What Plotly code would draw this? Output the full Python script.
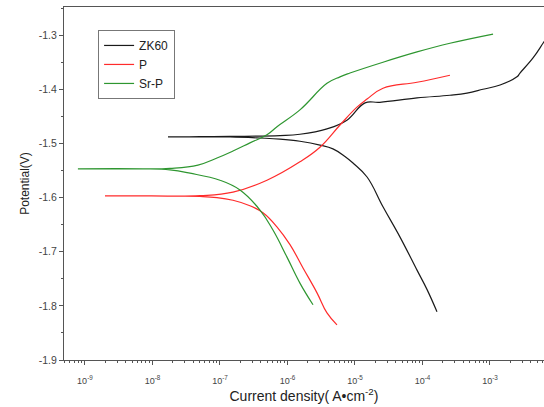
import plotly.graph_objects as go

# Potentiodynamic polarization curves: current density (A/cm^2) vs potential (V)
# Each curve runs from the cathodic end up to the corrosion potential, then out the anodic branch.
zk60_i = [1.64e-4, 1.17e-4, 8.30e-5, 4.65e-5, 2.60e-5, 1.51e-5, 9.50e-6, 7.11e-6, 4.72e-6,
          3.03e-6, 1.53e-6, 7.74e-7, 3.92e-7, 1.41e-7, 5.01e-8, 1.70e-8,
          5.01e-8, 1.41e-7, 7.74e-7, 1.53e-6, 3.85e-6, 7.60e-6, 1.41e-5, 2.34e-5, 8.30e-5,
          2.55e-4, 4.56e-4, 7.87e-4, 1.41e-3, 2.51e-3, 2.78e-3, 4.34e-3, 6.10e-3, 7.08e-3]
zk60_e = [-1.811, -1.770, -1.734, -1.673, -1.617, -1.562, -1.537, -1.524, -1.510,
          -1.503, -1.496, -1.492, -1.490, -1.488, -1.488, -1.488,
          -1.4875, -1.487, -1.4855, -1.483, -1.473, -1.457, -1.425, -1.424, -1.416,
          -1.411, -1.407, -1.400, -1.392, -1.377, -1.370, -1.342, -1.315, -1.303]

p_i = [5.41e-6, 3.85e-6, 2.74e-6, 1.70e-6, 1.09e-6, 6.98e-7, 4.34e-7, 2.78e-7, 1.56e-7,
       9.04e-8, 5.06e-8, 9.18e-9, 1.98e-9,
       9.18e-9, 5.06e-8, 1.56e-7, 4.97e-7, 1.53e-6, 3.03e-6, 6.00e-6, 1.07e-5, 1.51e-5,
       2.60e-5, 8.30e-5, 2.55e-4]
p_e = [-1.835, -1.813, -1.776, -1.730, -1.687, -1.654, -1.628, -1.615, -1.605,
       -1.600, -1.598, -1.597, -1.597,
       -1.597, -1.5965, -1.590, -1.568, -1.534, -1.507, -1.466, -1.433, -1.418,
       -1.398, -1.387, -1.374]

srp_i = [2.39e-6, 1.53e-6, 9.84e-7, 6.10e-7, 3.92e-7, 1.98e-7, 1.00e-7, 3.60e-8, 1.82e-8,
         7.23e-9, 7.87e-10,
         7.23e-9, 1.82e-8, 4.72e-8, 9.04e-8, 1.56e-7, 2.78e-7, 4.97e-7, 7.00e-7, 1.53e-6,
         3.85e-6, 6.00e-6, 8.43e-6, 2.60e-5, 8.30e-5, 2.55e-4, 1.11e-3]
srp_e = [-1.798, -1.758, -1.710, -1.660, -1.623, -1.586, -1.568, -1.555, -1.549,
         -1.547, -1.547,
         -1.547, -1.546, -1.540, -1.527, -1.514, -1.499, -1.484, -1.469, -1.438,
         -1.389, -1.377, -1.370, -1.350, -1.331, -1.315, -1.298]

series_names = ["ZK60", "P", "Sr-P"]
series_colors = ["#1a1a1a", "#ff2b2b", "#2e9630"]
series_x = [zk60_i, p_i, srp_i]
series_y = [zk60_e, p_e, srp_e]

x_tick_exps = [-9, -8, -7, -6, -5, -4, -3]
y_ticks = [-1.9, -1.8, -1.7, -1.6, -1.5, -1.4, -1.3]

fig = go.Figure()
for name, color, xs, ys in zip(series_names, series_colors, series_x, series_y):
    fig.add_trace(go.Scatter(
        x=xs, y=ys, mode="lines", name=name,
        line=dict(color=color, width=1.2, shape="spline", smoothing=1.2),
    ))

font_family = "Liberation Sans, Arial, sans-serif"

fig.update_layout(
    width=544, height=407,
    margin=dict(l=64, r=0, t=7, b=47),
    paper_bgcolor="white", plot_bgcolor="white",
    font=dict(family=font_family, color="#333333"),
    showlegend=True,
    legend=dict(
        x=0.071, y=0.935, xanchor="left", yanchor="top",
        bgcolor="white", bordercolor="#777777", borderwidth=1,
        font=dict(size=12, color="#222222"),
        tracegroupgap=0, itemwidth=30,
    ),
    xaxis=dict(
        type="log", range=[-9.31, -2.2],
        tickvals=[10.0 ** e for e in x_tick_exps],
        ticktext=[f"10<sup>{e}</sup>" for e in x_tick_exps],
        ticks="outside", ticklen=4, tickwidth=1, tickcolor="#555555",
        minor=dict(ticks="outside", ticklen=2, dtick="D1", tickcolor="#555555"),
        showline=True, linecolor="#555555", linewidth=1.2, mirror=True,
        showgrid=False, zeroline=False,
        tickfont=dict(size=9, color="#444444"),
        ticklabelstandoff=8,
        title=dict(text="Current density( A•cm<sup>-2</sup>)",
                   font=dict(size=14, color="#222222"), standoff=2),
    ),
    yaxis=dict(
        range=[-1.9, -1.248],
        tickvals=y_ticks,
        ticktext=[f"{v:.1f}" for v in y_ticks],
        ticks="outside", ticklen=4, tickwidth=1, tickcolor="#555555",
        minor=dict(ticks="outside", ticklen=2, dtick=0.05, tickcolor="#555555"),
        showline=True, linecolor="#555555", linewidth=1.2, mirror=False,
        showgrid=False, zeroline=False,
        tickfont=dict(size=10.5, color="#444444"),
        title=dict(text="Potential(V)", font=dict(size=12, color="#222222"), standoff=6),
    ),
)

fig.write_html("out.html")
